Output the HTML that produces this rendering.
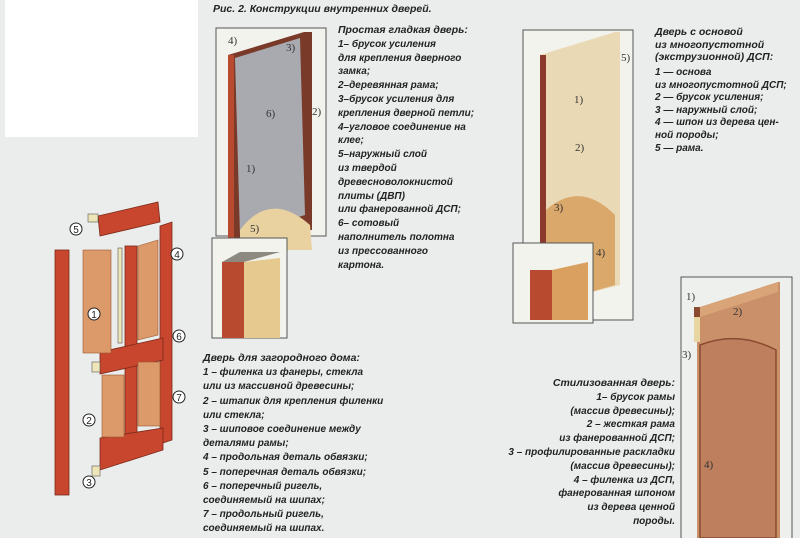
<!DOCTYPE html>
<html><head><meta charset="utf-8"><style>
body{margin:0;width:800px;height:538px;overflow:hidden;background:#ebedec;font-family:"Liberation Sans",sans-serif}
.t{position:absolute;font-weight:bold;font-style:italic;color:#222;font-size:10px;line-height:13.8px;white-space:nowrap}
</style></head><body>
<div style="position:absolute;left:5px;top:0;width:193px;height:137px;background:#fff"></div>
<svg width="800" height="538" style="position:absolute;left:0;top:0">
<rect x="216" y="28" width="110" height="208" fill="#f3f3ee" stroke="#555" stroke-width="1"/>
<polygon points="228,55 304,32 312,32 312,230 228,240" fill="#7a3a2a"/>
<polygon points="235,58 300,38 305,215 240,235" fill="#a8aab0"/>
<polygon points="228,55 234,55 234,240 228,240" fill="#b84a30"/>
<path d="M240,230 Q270,190 310,225 L312,250 L240,250Z" fill="#ead2a0"/>
<rect x="212" y="238" width="75" height="100" fill="#f3f3ee" stroke="#555"/>
<rect x="222" y="262" width="22" height="76" fill="#b84a30"/>
<polygon points="244,262 280,258 280,338 244,338" fill="#e6c98e"/>
<polygon points="222,262 240,252 280,252 244,262" fill="#8c8a80"/>
<rect x="523" y="30" width="110" height="290" fill="#f3f3ee" stroke="#555"/>
<polygon points="540,55 615,32 620,32 620,285 540,305" fill="#ead9b5"/>
<rect x="540" y="55" width="6" height="250" fill="#8a3a2a"/>
<path d="M546,210 Q580,180 615,215 L615,285 L546,305Z" fill="#d9a86a"/>
<rect x="513" y="243" width="80" height="80" fill="#f3f3ee" stroke="#555"/>
<rect x="530" y="270" width="22" height="50" fill="#b84a30"/>
<polygon points="552,270 588,262 588,320 552,320" fill="#d9a060"/>
<rect x="681" y="277" width="111" height="262" fill="#eef0ee" stroke="#555"/>
<polygon points="697,308 778,282 780,282 780,538 697,538" fill="#c9906a"/>
<polygon points="697,308 778,282 778,292 697,318" fill="#d8a478"/>
<path d="M700,345 Q738,330 776,350 L776,538 L700,538Z" fill="#bd7f5e" stroke="#8a4a30" stroke-width="1.5"/>
<rect x="694" y="307" width="6" height="10" fill="#8a4a30"/>
<rect x="694" y="317" width="6" height="25" fill="#e8d6a0"/>
<g fill="#c8452e" stroke="#7a2a1a" stroke-width="0.8">
<rect x="55" y="250" width="14" height="245"/>
<polygon points="98,216 158,202 160,222 100,236"/>
<rect x="125" y="246" width="12" height="203"/>
<polygon points="160,226 172,222 172,440 160,444"/>
<polygon points="100,352 163,338 163,360 100,374"/>
<polygon points="100,438 163,428 163,450 100,470"/>
</g>
<g fill="#dc9a6a" stroke="#9a5a30" stroke-width="0.6">
<rect x="83" y="250" width="28" height="103"/>
<polygon points="138,246 158,240 158,335 138,340"/>
<rect x="102" y="375" width="22" height="62"/>
<rect x="138" y="362" width="22" height="64"/>
</g>
<g fill="#eee6b8" stroke="#555" stroke-width="0.6">
<rect x="88" y="214" width="10" height="8"/><rect x="92" y="362" width="8" height="10"/><rect x="92" y="466" width="8" height="10"/>
<rect x="118" y="248" width="4" height="95"/>
</g>
<g fill="#fff" stroke="#222" stroke-width="1">
<circle cx="76" cy="229" r="6"/><circle cx="177" cy="254" r="6"/><circle cx="94" cy="314" r="6"/><circle cx="179" cy="336" r="6"/><circle cx="179" cy="397" r="6"/><circle cx="89" cy="420" r="6"/><circle cx="89" cy="482" r="6"/>
</g>
<g font-family="Liberation Sans" font-size="10" text-anchor="middle" fill="#222">
<text x="76" y="233">5</text><text x="177" y="258">4</text><text x="94" y="318">1</text><text x="179" y="340">6</text><text x="179" y="401">7</text><text x="89" y="424">2</text><text x="89" y="486">3</text>
</g>
<g font-family="Liberation Serif" font-size="11" fill="#333">
<text x="228" y="44">4)</text><text x="286" y="51">3)</text><text x="312" y="115">2)</text><text x="266" y="117">6)</text><text x="246" y="172">1)</text><text x="250" y="232">5)</text>
<text x="574" y="103">1)</text><text x="575" y="151">2)</text><text x="554" y="211">3)</text><text x="621" y="61">5)</text><text x="596" y="256">4)</text>
<text x="686" y="300">1)</text><text x="733" y="315">2)</text><text x="682" y="358">3)</text><text x="704" y="468">4)</text>
</g>
</svg>
<div class="t" style="left:213px;top:3px;font-size:10.5px">Рис. 2. Конструкции внутренних дверей.</div>
<div class="t" style="left:338px;top:24px">
<span style="font-size:10.5px">Простая гладкая дверь:</span><br>1– брусок усиления<br>для крепления дверного<br>замка;<br>2–деревянная рама;<br>3–брусок усиления для<br>крепления дверной петли;<br>4–угловое соединение на<br>клее;<br>5–наружный слой<br>из твердой<br>древесноволокнистой<br>плиты (ДВП)<br>или фанерованной ДСП;<br>6– сотовый<br>наполнитель полотна<br>из прессованного<br>картона.</div>
<div class="t" style="left:655px;top:26px;font-size:10.5px;line-height:12.6px">Дверь с основой<br>из многопустотной<br>(экструзионной) ДСП:</div>
<div class="t" style="left:655px;top:67px;line-height:12.6px">1 — основа<br>из многопустотной ДСП;<br>2 — брусок усиления;<br>3 — наружный слой;<br>4 — шпон из дерева цен-<br>ной породы;<br>5 — рама.</div>
<div class="t" style="left:203px;top:351px;line-height:14.2px"><span style="font-size:10.5px">Дверь для загородного дома:</span><br>1 – филенка из фанеры, стекла<br>или из массивной древесины;<br>2 – штапик для крепления филенки<br>или стекла;<br>3 – шиповое соединение между<br>деталями рамы;<br>4 – продольная деталь обвязки;<br>5 – поперечная деталь обвязки;<br>6 – поперечный ригель,<br>соединяемый на шипах;<br>7 – продольный ригель,<br>соединяемый на шипах.</div>
<div class="t" style="right:125px;top:377px;text-align:right"><span style="font-size:10.5px">Стилизованная дверь:</span><br>1– брусок рамы<br>(массив древесины);<br>2 – жесткая рама<br>из фанерованной ДСП;<br>3 – профилированные раскладки<br>(массив древесины);<br>4 – филенка из ДСП,<br>фанерованная шпоном<br>из дерева ценной<br>породы.</div>
</body></html>
